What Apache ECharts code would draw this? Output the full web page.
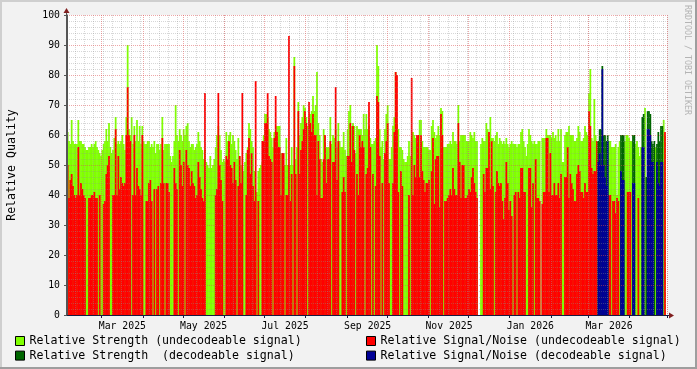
<!DOCTYPE html>
<html><head><meta charset="utf-8">
<script src="https://cdn.jsdelivr.net/npm/echarts@6/dist/echarts.min.js"></script>
<style>html,body{margin:0;padding:0;background:#F2F2F2}#c{width:697px;height:369px}</style>
</head><body><div id="c"></div>
<script>
// ---- data (one value per day, starting 2025-02-03) ----
const startDate = '2025-02-03';
const tickLabels = ['Mar 2025','May 2025','Jul 2025','Sep 2025','Nov 2025','Jan 2026','Mar 2026'];
const seriesNames = [
  'Relative Strength (undecodeable signal)',
  'Relative Signal/Noise (undecodeable signal)',
  'Relative Strength  (decodeable signal)',
  'Relative Signal/Noise (decodeable signal)'
];
const strengthUndecodable = [
61,58,57,65,58,57,57,57,65,58,
58,57,57,56,55,55,56,56,57,56,
57,58,56,55,54,53,55,57,58,62,
58,64,56,54,55,59,66,57,58,57,
58,60,57,55,66,90,62,60,66,57,
63,58,65,58,63,57,63,58,57,57,
58,58,56,57,56,58,54,57,57,55,
57,66,55,57,57,57,57,53,51,53,
58,70,60,58,62,60,58,62,60,63,
64,58,56,57,57,55,56,57,61,58,
56,55,52,55,51,50,49,53,49,50,
52,56,60,63,60,55,51,52,51,61,
58,60,61,57,60,58,55,52,59,53,
50,49,48,51,54,56,64,62,58,56,
48,41,41,48,49,50,51,60,67,67,
66,62,61,59,56,61,60,63,63,63,
54,52,50,50,59,50,50,50,56,50,
86,52,56,71,60,64,66,70,69,66,
63,65,67,68,73,68,70,81,64,60,
52,51,62,60,56,56,56,66,57,60,
59,62,56,64,58,56,56,61,55,53,
62,68,70,63,64,63,54,63,62,62,
62,60,67,62,67,62,63,59,57,57,
58,59,90,83,62,56,58,52,62,67,
70,52,52,56,63,66,81,64,62,56,
56,55,52,51,51,53,58,53,58,61,
60,59,57,57,65,65,58,56,56,56,
56,55,55,63,65,61,59,60,63,60,
69,68,56,56,56,57,57,58,57,61,
58,58,57,70,58,60,60,60,60,58,
58,58,61,60,59,61,58,58,null,null,
57,59,58,58,64,62,60,66,59,59,
58,60,61,57,59,58,57,58,57,59,
57,56,57,58,57,57,57,56,57,57,
61,62,58,56,53,57,62,60,58,57,
58,57,57,58,58,null,59,59,59,62,
60,60,60,59,61,59,60,58,62,58,
62,51,51,60,61,61,63,60,60,60,
58,58,59,63,61,58,58,59,63,61,
60,74,82,59,58,72,60,58,null,null,
null,null,null,null,null,null,58,58,56,56,
56,57,40,56,58,null,null,null,58,60,
60,59,58,58,null,null,57,58,56,53,
56,null,null,69,null,null,null,null,null,null,
null,56,null,null,null,null,null,65,60,null
];
const snrUndecodable = [
50,39,45,47,43,40,39,40,56,40,
44,42,40,39,null,null,39,39,40,40,
41,39,39,null,40,null,null,37,38,47,
50,53,null,null,40,40,62,40,53,42,
46,44,43,44,60,76,60,58,null,40,
60,40,49,43,42,40,60,null,null,38,
38,44,45,38,null,42,null,42,43,null,
44,59,44,null,44,44,41,null,null,null,
49,44,42,null,55,50,43,51,null,55,
50,49,43,48,44,43,39,40,51,46,
42,39,38,74,null,null,null,null,null,null,
null,40,42,74,50,45,38,null,null,53,
52,58,50,49,44,51,45,null,43,53,
44,74,null,null,40,55,59,47,54,43,
38,78,null,38,null,null,58,58,64,64,
74,53,52,51,null,59,73,61,56,56,
40,54,54,null,40,40,93,38,47,null,
83,47,null,68,47,55,58,62,68,64,
null,71,64,61,67,60,60,40,58,52,
39,39,52,60,44,52,52,58,null,51,
51,76,45,58,null,null,41,46,41,null,
53,53,64,51,63,55,null,47,40,60,
56,58,56,null,47,49,71,56,null,47,
null,43,73,71,53,null,44,null,54,58,
64,44,null,null,44,61,81,80,41,null,
48,43,null,null,null,null,40,null,79,40,
50,46,60,60,46,60,48,45,41,44,
44,45,null,48,59,37,52,53,53,36,
67,60,null,38,38,39,40,42,40,49,
42,40,40,64,51,39,50,50,39,39,
40,42,41,46,49,44,41,39,null,null,
null,null,47,41,49,49,61,42,58,43,
null,41,48,44,43,44,38,32,39,51,
44,35,38,33,null,40,41,null,41,39,
49,49,41,41,null,null,49,49,36,44,
null,52,39,39,38,null,37,41,41,59,
59,41,54,40,40,44,40,40,44,39,
47,null,null,46,46,56,39,47,44,42,
38,38,47,50,48,41,41,39,44,41,
41,68,63,49,47,48,48,58,null,null,
null,null,null,null,null,null,40,40,null,38,
38,34,39,38,null,null,null,null,null,null,
41,41,41,null,null,null,null,null,39,null,
null,null,null,null,null,null,null,null,null,null,
null,null,null,null,null,null,null,null,61,null
];
// decodeable series start at day index 398 (2026-03-08)
const decodableStartIndex = 398;
const strengthDecodable = [
58,62,62,83,60,60,58,60,
null,null,null,null,null,null,null,null,null,
60,60,60,
null,null,null,null,null,null,
60,60,
null,null,null,null,null,
66,67,null,46,68,68,67,58,57,58,
null,57,61,58,63,63,
null,null,null
];
const snrDecodable = [
51,54,50,82,50,46,43,58,
null,null,null,null,null,null,null,null,null,
48,45,45,
null,null,null,null,null,null,
44,44,
null,null,null,null,null,
56,56,null,null,62,62,60,51,51,
null,null,51,44,43,51,51,
null,null,null
];

// ---- build ----
const MON = ['Jan','Feb','Mar','Apr','May','Jun','Jul','Aug','Sep','Oct','Nov','Dec'];
const DAY = 86400000;
const t0 = Date.parse(startDate + 'T00:00:00Z');
const categories = strengthUndecodable.map((_, i) => new Date(t0 + i * DAY).toISOString().slice(0, 10));
const pad = arr => new Array(decodableStartIndex).fill(null).concat(arr);
const labelFor = v => { const p = v.split('-'); return MON[+p[1] - 1] + ' ' + p[0]; };
const isMonthStart = (i, v) => v.endsWith('-01');
const isSunday = (i, v) => new Date(v + 'T00:00:00Z').getUTCDay() === 0;
const isLabelDay = (i, v) => v.endsWith('-16') && tickLabels.includes(labelFor(v));

const FONT = 'DejaVu Sans Mono';
const MAJOR = 'rgba(222,79,79,0.5)';
const MINOR = 'rgba(143,143,143,0.36)';
const colors = ['#80FF00', '#FF0000', '#006600', '#000096'];
const values = [strengthUndecodable, snrUndecodable, pad(strengthDecodable), pad(snrDecodable)];

const chart = echarts.init(document.getElementById('c'), null, {renderer: 'canvas'});
chart.setOption({
  animation: false,
  backgroundColor: '#F2F2F2',
  grid: {left: 67, top: 15, width: 600, height: 300, show: true, backgroundColor: '#FFFFFF', borderWidth: 0, containLabel: false},
  xAxis: [{
    type: 'category', data: categories, boundaryGap: true, z: 5,
    axisLine: {show: true, lineStyle: {color: '#1a1a40', width: 1}},
    axisTick: {show: true, interval: isMonthStart, length: 3, lineStyle: {color: '#1a1a40'}},
    axisLabel: {show: true, interval: isLabelDay, formatter: labelFor, margin: 6,
      fontFamily: FONT, fontSize: 9.8, color: '#000'},
    splitLine: {show: true, interval: isMonthStart, lineStyle: {color: MAJOR, width: 1, type: [1, 1]}}
  }, {
    type: 'category', data: categories, boundaryGap: true, z: 4, position: 'bottom',
    axisLine: {show: false}, axisTick: {show: false}, axisLabel: {show: false},
    splitLine: {show: true, interval: isSunday, lineStyle: {color: MINOR, width: 1, type: [1, 1]}}
  }],
  yAxis: {
    type: 'value', min: 0, max: 100, interval: 10, z: 5,
    axisLine: {show: true, lineStyle: {color: '#555', width: 1}},
    axisTick: {show: true, length: 3, lineStyle: {color: '#555'}},
    axisLabel: {fontFamily: FONT, fontSize: 9.8, color: '#000', margin: 7},
    splitLine: {show: true, lineStyle: {color: MAJOR, width: 1, type: [1, 1]}},
    minorTick: {show: false, splitNumber: 5},
    minorSplitLine: {show: true, lineStyle: {color: MINOR, width: 1, type: [1, 1]}}
  },
  legend: [{
    data: [seriesNames[0], seriesNames[2]], orient: 'vertical', left: 15, top: 334, padding: 0,
    itemWidth: 9, itemHeight: 9, itemGap: 0.6, icon: 'rect', selectedMode: false,
    itemStyle: {borderColor: '#000', borderWidth: 1},
    textStyle: {fontFamily: FONT, fontSize: 11.6, color: '#000', lineHeight: 14}
  }, {
    data: [seriesNames[1], seriesNames[3]], orient: 'vertical', left: 366, top: 334, padding: 0,
    itemWidth: 9, itemHeight: 9, itemGap: 0.6, icon: 'rect', selectedMode: false,
    itemStyle: {borderColor: '#000', borderWidth: 1},
    textStyle: {fontFamily: FONT, fontSize: 11.6, color: '#000', lineHeight: 14}
  }],
  tooltip: {show: false},
  series: values.map((arr, k) => ({
    name: seriesNames[k], type: 'bar', data: arr, xAxisIndex: 0, yAxisIndex: 0,
    barWidth: 1.75, barGap: '-100%', barCategoryGap: '0%', silent: true, z: 2 + k * 0.01,
    itemStyle: {color: colors[k]}, emphasis: {disabled: true}
  })),
  graphic: [
    {type: 'rect', shape: {x: 0, y: 0, width: 697, height: 2}, style: {fill: '#CFCFCF'}, silent: true},
    {type: 'rect', shape: {x: 0, y: 0, width: 2, height: 369}, style: {fill: '#CFCFCF'}, silent: true},
    {type: 'rect', shape: {x: 0, y: 367, width: 697, height: 2}, style: {fill: '#9E9E9E'}, silent: true},
    {type: 'rect', shape: {x: 695, y: 0, width: 2, height: 369}, style: {fill: '#9E9E9E'}, silent: true},
    {type: 'line', shape: {x1: 66.5, y1: 315, x2: 66.5, y2: 12}, style: {stroke: '#555', lineWidth: 1}, z: 10, silent: true},
    {type: 'line', shape: {x1: 67, y1: 315.5, x2: 670, y2: 315.5}, style: {stroke: '#1a1a40', lineWidth: 1}, z: 10, silent: true},
    {type: 'polygon', shape: {points: [[63.5, 13], [69.5, 13], [66.5, 8]]}, style: {fill: '#801F1F'}, z: 11, silent: true},
    {type: 'polygon', shape: {points: [[669, 312.5], [669, 318.5], [674, 315.5]]}, style: {fill: '#801F1F'}, z: 11, silent: true},
    {type: 'text', x: 12, y: 165, rotation: Math.PI / 2,
      style: {text: 'Relative Quality', font: '11.6px "DejaVu Sans Mono"', fill: '#000', textAlign: 'center', textVerticalAlign: 'middle'}, silent: true},
    {type: 'text', x: 687.5, y: 60, rotation: -Math.PI / 2,
      style: {text: 'RRDTOOL / TOBI OETIKER', font: '8.3px "DejaVu Sans Mono"', fill: '#B4B4B4', textAlign: 'center', textVerticalAlign: 'middle'}, silent: true}
  ]
});
</script>
</body></html>
